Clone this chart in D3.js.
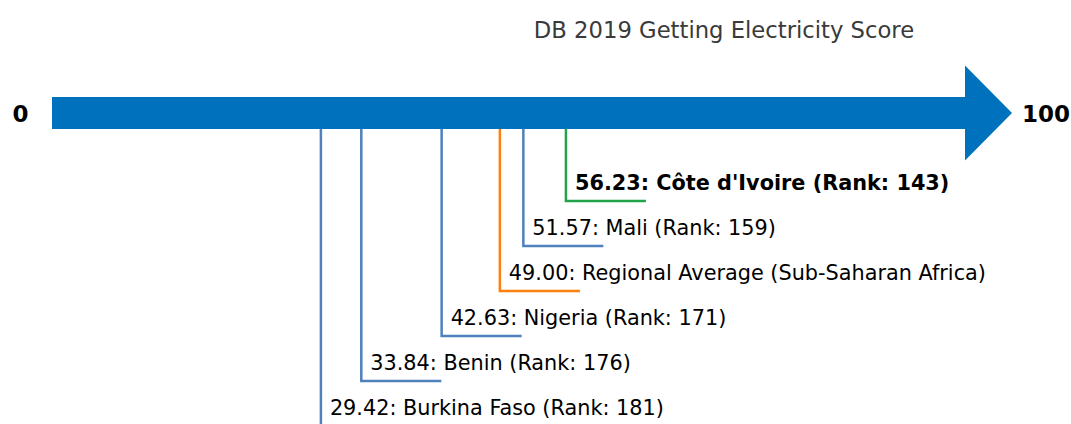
<!DOCTYPE html>
<html>
<head>
<meta charset="utf-8">
<script src="https://cdn.jsdelivr.net/npm/d3@7"></script>
<style>
  html, body { margin: 0; padding: 0; background: #fff; }
  svg { display: block; font-family: "DejaVu Sans", sans-serif; }
</style>
</head>
<body>
<svg id="chart" width="1071" height="424"></svg>
<script>
// ---- data ----
const title = "DB 2019 Getting Electricity Score";
const entities = ["Burkina Faso", "Benin", "Nigeria", "Regional Average (Sub-Saharan Africa)", "Mali", "Côte d'Ivoire"];
const scores = [29.42, 33.84, 42.63, 49.00, 51.57, 56.23];
const ranks = [181, 176, 171, null, 159, 143];
const kinds = ["peer", "peer", "peer", "region", "peer", "focus"];
const axisDomain = [0, 100];

// ---- layout ----
const W = 1071, H = 424;
const svg = d3.select("#chart");
const x = d3.scaleLinear().domain(axisDomain).range([52, 966]);
const barTop = 97, barH = 32, barMid = barTop + barH / 2;
const colorByKind = { peer: "#4f81bd", region: "#ff7f0e", focus: "#22a34a" };

// title
svg.append("text")
  .attr("x", 724).attr("y", 38)
  .attr("text-anchor", "middle")
  .attr("font-size", 22.7)
  .attr("fill", "#3a3a3a")
  .text(title);

// order by score descending -> level index
const rows = entities.map((e, i) => ({ name: e, score: scores[i], rank: ranks[i], kind: kinds[i] }));
const sorted = rows.slice().sort((a, b) => b.score - a.score);
sorted.forEach((d, i) => d.level = i);
const y = d3.scaleLinear().domain([0, 1]).range([201, 246]);

// leader lines (drawn behind bar)
const g = svg.append("g");
const hLen = 80;
rows.forEach(d => {
  const px = x(d.score);
  const py = y(d.level);
  g.append("path")
    .attr("d", `M${px},${barTop + barH - 1} L${px},${py} L${px + hLen},${py}`)
    .attr("fill", "none")
    .attr("stroke", colorByKind[d.kind])
    .attr("stroke-width", 2.5);
  const label = d.rank == null
    ? `${d.score.toFixed(2)}: ${d.name}`
    : `${d.score.toFixed(2)}: ${d.name} (Rank: ${d.rank})`;
  g.append("text")
    .attr("x", px + 9)
    .attr("y", py - 11)
    .attr("font-size", 20.8)
    .attr("font-weight", d.kind === "focus" ? "bold" : "normal")
    .attr("fill", "#000")
    .text(label);
});

// arrow bar
svg.append("rect")
  .attr("x", x(axisDomain[0]))
  .attr("y", barTop)
  .attr("width", x(axisDomain[1]) - x(axisDomain[0]))
  .attr("height", barH)
  .attr("fill", "#0072bd");
const hx = x(axisDomain[1]) - 1;
svg.append("path")
  .attr("d", `M${hx},${barMid - 47.5} L${hx + 47},${barMid} L${hx},${barMid + 47.5} Z`)
  .attr("fill", "#0072bd");

// end labels
svg.append("text")
  .attr("x", 28.5).attr("y", barMid + 8.5)
  .attr("text-anchor", "end")
  .attr("font-size", 23)
  .attr("font-weight", "bold")
  .text(String(axisDomain[0]));
svg.append("text")
  .attr("x", 1022).attr("y", barMid + 8.5)
  .attr("text-anchor", "start")
  .attr("font-size", 23)
  .attr("font-weight", "bold")
  .text(String(axisDomain[1]));
</script>
</body>
</html>
